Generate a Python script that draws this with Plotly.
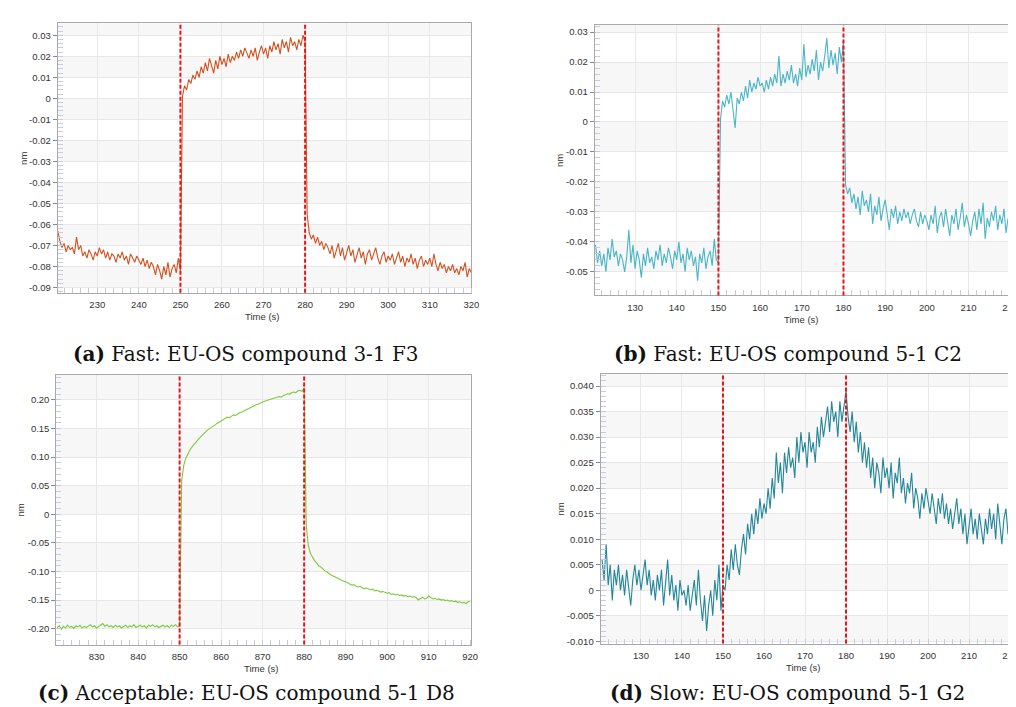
import numpy as np
import plotly.graph_objects as go

# ---------------- data ----------------
# sampling grids (s): start, end, step
grid_a = (220.5, 320.0, 0.5)
grid_b = (120.5, 220.0, 0.5)
grid_c = (820.5, 920.0, 0.5)
grid_d = (120.5, 220.0, 0.5)

# (a) Fast: EU-OS compound 3-1 F3   (nm)
nm_a = [
    -0.063, -0.068, -0.071, -0.069, -0.073, -0.070, -0.072, -0.071, -0.074, -0.066,
    -0.072, -0.070, -0.075, -0.073, -0.076, -0.072, -0.074, -0.077, -0.073, -0.075,
    -0.071, -0.074, -0.072, -0.076, -0.073, -0.077, -0.074, -0.075, -0.078, -0.074,
    -0.076, -0.073, -0.077, -0.075, -0.079, -0.074, -0.076, -0.078, -0.075, -0.077,
    -0.079, -0.076, -0.080, -0.077, -0.081, -0.078, -0.080, -0.084, -0.079, -0.082,
    -0.086, -0.080, -0.084, -0.078, -0.085, -0.081, -0.079, -0.083, -0.076, -0.082,
    0.001, 0.006, 0.004, 0.009, 0.007, 0.011, 0.009, 0.013, 0.010, 0.015,
    0.012, 0.017, 0.013, 0.019, 0.015, 0.012, 0.018, 0.014, 0.020, 0.016,
    0.019, 0.015, 0.021, 0.017, 0.020, 0.018, 0.022, 0.019, 0.023, 0.020,
    0.024, 0.021, 0.019, 0.023, 0.020, 0.024, 0.018, 0.022, 0.025, 0.021,
    0.024, 0.019, 0.025, 0.022, 0.027, 0.023, 0.026, 0.021, 0.028, 0.024,
    0.027, 0.022, 0.029, 0.025, 0.027, 0.023, 0.028, 0.025, 0.030, 0.027,
    -0.055, -0.064, -0.067, -0.065, -0.069, -0.066, -0.070, -0.068, -0.072, -0.069,
    -0.071, -0.074, -0.070, -0.076, -0.072, -0.069, -0.075, -0.071, -0.077, -0.073,
    -0.070, -0.075, -0.072, -0.078, -0.074, -0.071, -0.076, -0.073, -0.079, -0.074,
    -0.072, -0.077, -0.074, -0.071, -0.076, -0.079, -0.075, -0.073, -0.078, -0.075,
    -0.077, -0.074, -0.079, -0.076, -0.073, -0.078, -0.075, -0.080, -0.076, -0.078,
    -0.074, -0.079, -0.076, -0.081, -0.077, -0.075, -0.080, -0.077, -0.079, -0.076,
    -0.080, -0.074, -0.079, -0.082, -0.078, -0.081, -0.079, -0.083, -0.080, -0.082,
    -0.079, -0.083, -0.081, -0.084, -0.080, -0.082, -0.078, -0.085, -0.081, -0.083,
]

# (b) Fast: EU-OS compound 5-1 C2
nm_b = [
    -0.041, -0.047, -0.043, -0.048, -0.044, -0.050, -0.042, -0.046, -0.039, -0.045,
    -0.043, -0.048, -0.044, -0.046, -0.050, -0.045, -0.036, -0.047, -0.041, -0.049,
    -0.043, -0.046, -0.052, -0.044, -0.048, -0.042, -0.047, -0.045, -0.049, -0.043,
    -0.046, -0.041, -0.048, -0.044, -0.047, -0.042, -0.045, -0.049, -0.043, -0.046,
    -0.040, -0.047, -0.044, -0.050, -0.042, -0.046, -0.043, -0.048, -0.045, -0.053,
    -0.044, -0.047, -0.042, -0.049, -0.045, -0.043, -0.048, -0.039, -0.046, -0.047,
    0.001, 0.007, 0.005, 0.009, 0.006, 0.010, 0.004, -0.002, 0.008, 0.006,
    0.010, 0.007, 0.012, 0.008, 0.014, 0.010, 0.013, 0.011, 0.015, 0.012,
    0.013, 0.010, 0.014, 0.011, 0.015, 0.012, 0.016, 0.013, 0.022, 0.012,
    0.016, 0.013, 0.017, 0.014, 0.019, 0.013, 0.016, 0.012, 0.018, 0.014,
    0.026, 0.015, 0.019, 0.016, 0.021, 0.017, 0.024, 0.014, 0.020, 0.017,
    0.022, 0.028, 0.018, 0.024, 0.019, 0.023, 0.016, 0.025, 0.020, 0.027,
    -0.021, -0.024, -0.022, -0.027, -0.024, -0.029, -0.025, -0.031, -0.023, -0.028,
    -0.026, -0.030, -0.024, -0.034, -0.028, -0.031, -0.025, -0.033, -0.029, -0.026,
    -0.031, -0.036, -0.029, -0.032, -0.028, -0.034, -0.030, -0.033, -0.029, -0.032,
    -0.030, -0.034, -0.031, -0.029, -0.033, -0.035, -0.030, -0.034, -0.031, -0.033,
    -0.036, -0.031, -0.034, -0.028, -0.037, -0.032, -0.030, -0.035, -0.029, -0.033,
    -0.038, -0.031, -0.034, -0.029, -0.036, -0.032, -0.027, -0.035, -0.031, -0.034,
    -0.038, -0.033, -0.030, -0.036, -0.029, -0.034, -0.027, -0.039, -0.032, -0.035,
    -0.030, -0.033, -0.028, -0.036, -0.031, -0.034, -0.029, -0.037, -0.032, -0.033,
]

# (c) Acceptable: EU-OS compound 5-1 D8
nm_c = [
    -0.198, -0.195, -0.201, -0.196, -0.199, -0.194, -0.198, -0.196, -0.200, -0.195,
    -0.197, -0.194, -0.199, -0.196, -0.198, -0.195, -0.193, -0.197, -0.195, -0.199,
    -0.196, -0.194, -0.191, -0.196, -0.193, -0.197, -0.195, -0.198, -0.194, -0.197,
    -0.195, -0.199, -0.196, -0.194, -0.198, -0.195, -0.197, -0.193, -0.198, -0.196,
    -0.194, -0.197, -0.195, -0.199, -0.194, -0.196, -0.193, -0.197, -0.195, -0.198,
    -0.196, -0.194, -0.197, -0.195, -0.198, -0.194, -0.196, -0.193, -0.197, -0.195,
    0.060, 0.086, 0.098, 0.106, 0.113, 0.118, 0.123, 0.127, 0.131, 0.135,
    0.139, 0.142, 0.146, 0.149, 0.151, 0.154, 0.156, 0.159, 0.161, 0.164,
    0.166, 0.167, 0.170, 0.169, 0.172, 0.174, 0.173, 0.176, 0.178, 0.179,
    0.181, 0.183, 0.184, 0.186, 0.188, 0.190, 0.192, 0.193, 0.195, 0.197,
    0.198, 0.199, 0.200, 0.201, 0.202, 0.203, 0.204, 0.206, 0.205, 0.208,
    0.209, 0.211, 0.210, 0.213, 0.214, 0.213, 0.216, 0.217, 0.215, 0.222,
    -0.020, -0.055, -0.068, -0.076, -0.081, -0.085, -0.090, -0.092, -0.096, -0.099,
    -0.101, -0.104, -0.106, -0.108, -0.110, -0.111, -0.114, -0.115, -0.117, -0.118,
    -0.120, -0.122, -0.124, -0.123, -0.126, -0.127, -0.126, -0.129, -0.130, -0.129,
    -0.131, -0.132, -0.131, -0.134, -0.133, -0.135, -0.136, -0.135, -0.137, -0.138,
    -0.137, -0.140, -0.139, -0.141, -0.140, -0.142, -0.141, -0.143, -0.142, -0.144,
    -0.143, -0.145, -0.144, -0.146, -0.150, -0.147, -0.145, -0.148, -0.147, -0.143,
    -0.146, -0.148, -0.147, -0.149, -0.148, -0.150, -0.149, -0.151, -0.150, -0.152,
    -0.151, -0.153, -0.152, -0.154, -0.153, -0.155, -0.154, -0.156, -0.153, -0.152,
]

# (d) Slow: EU-OS compound 5-1 G2
nm_d = [
    0.006, 0.002, 0.009, 0.001, 0.005, -0.002, 0.004, 0.001, 0.005, 0.000,
    0.003, -0.001, 0.004, 0.000, -0.003, 0.002, 0.005, 0.001, 0.004, 0.000,
    0.003, 0.006, 0.001, 0.004, -0.001, 0.002, -0.002, 0.003, 0.000, 0.004,
    -0.003, 0.002, 0.006, -0.001, 0.003, -0.002, 0.001, -0.004, 0.002, -0.001,
    0.000, -0.003, 0.001, -0.004, -0.001, 0.002, -0.003, 0.004, -0.002, -0.006,
    -0.001, -0.008, -0.003, 0.000, -0.005, 0.002, -0.002, 0.005, -0.004, 0.001,
    0.000, 0.005, 0.002, 0.008, 0.004, 0.009, 0.005, 0.003, 0.008, 0.011,
    0.007, 0.013, 0.010, 0.015, 0.011, 0.016, 0.013, 0.018, 0.014, 0.017,
    0.015, 0.020, 0.016, 0.022, 0.018, 0.027, 0.021, 0.025, 0.019, 0.027,
    0.023, 0.028, 0.024, 0.026, 0.022, 0.030, 0.025, 0.031, 0.027, 0.029,
    0.024, 0.031, 0.027, 0.029, 0.025, 0.032, 0.028, 0.034, 0.030, 0.033,
    0.036, 0.031, 0.037, 0.033, 0.035, 0.030, 0.037, 0.033, 0.036, 0.039,
    0.034, 0.031, 0.035, 0.029, 0.033, 0.027, 0.031, 0.025, 0.029, 0.024,
    0.028, 0.022, 0.026, 0.020, 0.025, 0.023, 0.019, 0.026, 0.022, 0.024,
    0.020, 0.025, 0.018, 0.023, 0.021, 0.026, 0.019, 0.022, 0.017, 0.021,
    0.019, 0.023, 0.016, 0.020, 0.018, 0.014, 0.019, 0.016, 0.020, 0.017,
    0.015, 0.019, 0.016, 0.013, 0.018, 0.015, 0.019, 0.014, 0.017, 0.013,
    0.016, 0.012, 0.015, 0.018, 0.013, 0.016, 0.011, 0.015, 0.009, 0.013,
    0.016, 0.011, 0.014, 0.010, 0.015, 0.012, 0.009, 0.014, 0.011, 0.016,
    0.012, 0.015, 0.010, 0.017, 0.013, 0.009, 0.014, 0.016, 0.011, 0.014,
]

# step boundaries (association start / dissociation start), s
events_a = [250, 280]
events_b = [150, 180]
events_c = [850, 880]
events_d = [150, 180]

# tick labels
xticks_a = [230, 240, 250, 260, 270, 280, 290, 300, 310, 320]
xticks_b = [130, 140, 150, 160, 170, 180, 190, 200, 210, 220]
xticks_c = [830, 840, 850, 860, 870, 880, 890, 900, 910, 920]
xticks_d = [130, 140, 150, 160, 170, 180, 190, 200, 210, 220]

yticks_a = [0.03, 0.02, 0.01, 0, -0.01, -0.02, -0.03, -0.04, -0.05, -0.06, -0.07, -0.08, -0.09]
ylabels_a = ["0.03", "0.02", "0.01", "0", "-0.01", "-0.02", "-0.03", "-0.04", "-0.05",
             "-0.06", "-0.07", "-0.08", "-0.09"]
yticks_b = [0.03, 0.02, 0.01, 0, -0.01, -0.02, -0.03, -0.04, -0.05]
ylabels_b = ["0.03", "0.02", "0.01", "0", "-0.01", "-0.02", "-0.03", "-0.04", "-0.05"]
yticks_c = [0.20, 0.15, 0.10, 0.05, 0, -0.05, -0.10, -0.15, -0.20]
ylabels_c = ["0.20", "0.15", "0.10", "0.05", "0", "-0.05", "-0.10", "-0.15", "-0.20"]
yticks_d = [0.040, 0.035, 0.030, 0.025, 0.020, 0.015, 0.010, 0.005, 0, -0.005, -0.010]
ylabels_d = ["0.040", "0.035", "0.030", "0.025", "0.020", "0.015", "0.010", "0.005", "0",
             "-0.005", "-0.010"]

captions = [
    ("(a)", "Fast: EU-OS compound 3-1 F3"),
    ("(b)", "Fast: EU-OS compound 5-1 C2"),
    ("(c)", "Acceptable: EU-OS compound 5-1 D8"),
    ("(d)", "Slow: EU-OS compound 5-1 G2"),
]

# ---------------- layout / style ----------------
W, H = 1016, 707
panels = [
    dict(grid=grid_a, y=nm_a, ev=events_a, xt=xticks_a, yt=yticks_a, yl=ylabels_a,
         color="#d4501f", box=(50, 467, 15.3, 286), xr=[220.45, 320.0], yr=[-0.0925, 0.0357],
         ymin=0.002, cap=captions[0], capxy=(240, 347), ytitle_x=15, xtitle_y=310),
    dict(grid=grid_b, y=nm_b, ev=events_b, xt=xticks_b, yt=yticks_b, yl=ylabels_b,
         color="#4ab5c6", box=(591.3, 1011, 17.3, 288.7), xr=[120.3, 220.2], yr=[-0.0579, 0.0323],
         ymin=0.002, cap=captions[1], capxy=(786, 347), ytitle_x=556, xtitle_y=313),
    dict(grid=grid_c, y=nm_c, ev=events_c, xt=xticks_c, yt=yticks_c, yl=ylabels_c,
         color="#7dc93a", box=(48.7, 466.3, 368.3, 639.3), xr=[820.3, 920.1], yr=[-0.2279, 0.2442],
         ymin=0.01, cap=captions[2], capxy=(240, 688), ytitle_x=13, xtitle_y=663),
    dict(grid=grid_d, y=nm_d, ev=events_d, xt=xticks_d, yt=yticks_d, yl=ylabels_d,
         color="#23869a", box=(597.3, 1010, 367.7, 638.3), xr=[120.15, 220.0], yr=[-0.01045, 0.04234],
         ymin=0.001, cap=captions[3], capxy=(786, 688), ytitle_x=557, xtitle_y=662),
]

TICKFONT = dict(family="Arial, Liberation Sans, sans-serif", size=9.5, color="#333333")
GRID = "#e8e8e8"
FRAME = "#a8a8a8"
MINOR = "#c9c9e6"
BAND = "#f7f7f7"
RED = "#e8141a"

fig = go.Figure()
layout = dict(width=W, height=H, margin=dict(l=0, r=0, t=0, b=0),
              paper_bgcolor="white", plot_bgcolor="white", showlegend=False)
shapes, annotations = [], []

for i, p in enumerate(panels):
    sfx = "" if i == 0 else str(i + 1)
    xa, ya = "x" + sfx, "y" + sfx
    l, r, t, b = p["box"]
    t0, t1, dt = p["grid"]
    times = np.round(t0 + dt * np.arange(len(p["y"])), 3)

    fig.add_trace(go.Scatter(x=times, y=p["y"], mode="lines", xaxis=xa, yaxis=ya,
                             line=dict(color=p["color"], width=1.1), hoverinfo="skip"))

    layout["xaxis" + sfx] = dict(
        domain=[l / W, r / W], range=p["xr"], anchor=ya,
        tickmode="array", tickvals=p["xt"], ticktext=[str(v) for v in p["xt"]],
        showgrid=True, gridcolor=GRID, gridwidth=1, zeroline=False,
        showline=True, mirror=True, linecolor=FRAME, linewidth=1,
        ticks="outside", ticklen=3, tickcolor="rgba(0,0,0,0)",
        minor=dict(tick0=0, dtick=2, ticks="inside", ticklen=5, tickcolor=MINOR, showgrid=False),
        tickfont=TICKFONT, fixedrange=True)
    layout["yaxis" + sfx] = dict(
        domain=[1 - b / H, 1 - t / H], range=p["yr"], anchor=xa,
        tickmode="array", tickvals=p["yt"], ticktext=p["yl"],
        showgrid=True, gridcolor=GRID, gridwidth=1, zeroline=False,
        showline=True, mirror=True, linecolor=FRAME, linewidth=1,
        ticks="outside", ticklen=4, tickcolor="#8a8a8a",
        minor=dict(tick0=0, dtick=p["ymin"], ticks="inside", ticklen=5, tickcolor=MINOR, showgrid=False),
        tickfont=TICKFONT, fixedrange=True)

    # alternating background bands, starting (grey) from the top edge
    bounds = [p["yr"][1]] + list(p["yt"]) + [p["yr"][0]]
    for k in range(len(bounds) - 1):
        if k % 2 == 0:
            shapes.append(dict(type="rect", xref=xa + " domain", yref=ya, x0=0, x1=1,
                               y0=bounds[k + 1], y1=bounds[k], fillcolor=BAND,
                               line=dict(width=0), layer="below"))
    # event markers
    for ev in p["ev"]:
        shapes.append(dict(type="line", xref=xa, yref=ya + " domain", x0=ev, x1=ev, y0=0, y1=1,
                           line=dict(color=RED, width=2, dash="4px,2px"), layer="above"))

    # axis titles
    annotations.append(dict(text="Time (s)", xref="paper", yref="paper",
                            x=((l + r) / 2 - 2) / W, y=1 - p["xtitle_y"] / H,
                            showarrow=False, font=TICKFONT, xanchor="center", yanchor="middle"))
    annotations.append(dict(text="nm", xref="paper", yref="paper",
                            x=p["ytitle_x"] / W, y=1 - ((t + b) / 2) / H, textangle=-90,
                            showarrow=False, font=TICKFONT, xanchor="center", yanchor="middle"))
    # caption
    lab, txt = p["cap"]
    annotations.append(dict(text="<b>" + lab + "</b> " + txt, xref="paper", yref="paper",
                            x=p["capxy"][0] / W, y=1 - p["capxy"][1] / H, showarrow=False,
                            xanchor="center", yanchor="middle",
                            font=dict(family="DejaVu Serif, serif", size=20, color="#111111")))

layout["shapes"] = shapes
layout["annotations"] = annotations
fig.update_layout(**layout)
fig.write_html("out.html")
